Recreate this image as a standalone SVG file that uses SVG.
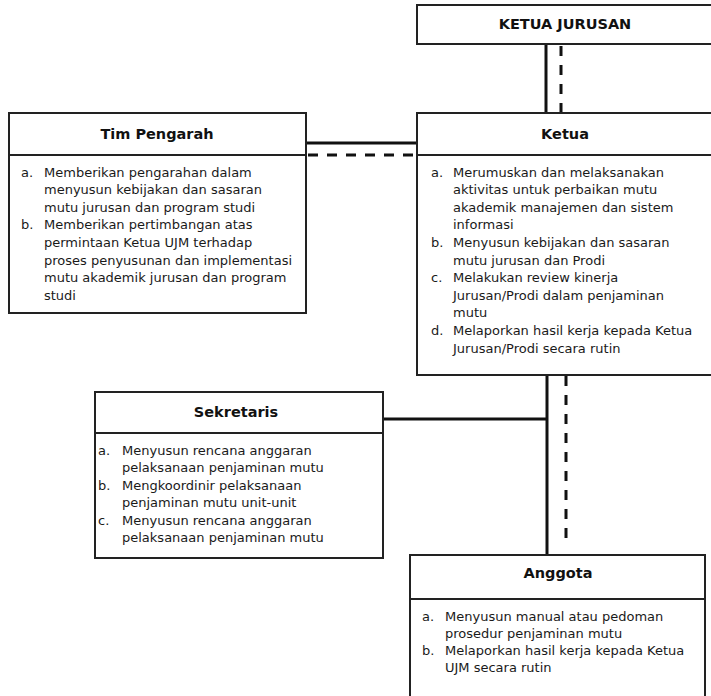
<svg xmlns="http://www.w3.org/2000/svg" width="711" height="696" viewBox="0 0 711 696">
<style>
.box{fill:#fff;stroke:#222;stroke-width:2}
.sep{stroke:#222;stroke-width:2}
.h{font-family:"DejaVu Sans",Verdana,sans-serif;font-weight:bold;font-size:14.5px;fill:#111;text-anchor:middle}
.t{font-family:"DejaVu Sans",Verdana,sans-serif;font-size:13px;fill:#1a1a1a}
.solid{stroke:#111;stroke-width:3;fill:none}
.dash{stroke:#111;stroke-width:3;fill:none;stroke-dasharray:10 9}
</style>
<rect width="711" height="696" fill="#fff"/>
<g id="connectors">
<line class="solid" x1="546" y1="44" x2="546" y2="113"/>
<line class="dash" x1="561" y1="46" x2="561" y2="113"/>
<line class="solid" x1="306" y1="143" x2="417" y2="143"/>
<line class="dash" x1="308" y1="155" x2="417" y2="155"/>
<line class="solid" x1="547" y1="375" x2="547" y2="555"/>
<line class="dash" x1="566" y1="376" x2="566" y2="546"/>
<line class="solid" x1="383" y1="419" x2="547" y2="419"/>
</g>
<g id="ketua-jurusan">
<rect class="box" x="417" y="5" width="300" height="39"/>
<text class="h" x="565" y="29">KETUA JURUSAN</text>
</g>
<g id="ketua">
<rect class="box" x="417" y="113" width="300" height="262"/>
<line class="sep" x1="417" y1="155" x2="717" y2="155"/>
<text class="h" x="565" y="139">Ketua</text>
<text class="t" x="431" y="176.5">a.</text>
<text class="t" x="453" y="176.5">Merumuskan dan melaksanakan</text>
<text class="t" x="453" y="194.1">aktivitas untuk perbaikan mutu</text>
<text class="t" x="453" y="211.7">akademik manajemen dan sistem</text>
<text class="t" x="453" y="229.3">informasi</text>
<text class="t" x="431" y="246.9">b.</text>
<text class="t" x="453" y="246.9">Menyusun kebijakan dan sasaran</text>
<text class="t" x="453" y="264.5">mutu jurusan dan Prodi</text>
<text class="t" x="431" y="282.1">c.</text>
<text class="t" x="453" y="282.1">Melakukan review kinerja</text>
<text class="t" x="453" y="299.7">Jurusan/Prodi dalam penjaminan</text>
<text class="t" x="453" y="317.3">mutu</text>
<text class="t" x="431" y="334.9">d.</text>
<text class="t" x="453" y="334.9">Melaporkan hasil kerja kepada Ketua</text>
<text class="t" x="453" y="352.5">Jurusan/Prodi secara rutin</text>
</g>
<g id="tim-pengarah">
<rect class="box" x="9" y="113" width="297" height="200"/>
<line class="sep" x1="9" y1="155" x2="306" y2="155"/>
<text class="h" x="157" y="139">Tim Pengarah</text>
<text class="t" x="21" y="176.5">a.</text>
<text class="t" x="44" y="176.5">Memberikan pengarahan dalam</text>
<text class="t" x="44" y="194.1">menyusun kebijakan dan sasaran</text>
<text class="t" x="44" y="211.7">mutu jurusan dan program studi</text>
<text class="t" x="21" y="229.3">b.</text>
<text class="t" x="44" y="229.3">Memberikan pertimbangan atas</text>
<text class="t" x="44" y="246.9">permintaan Ketua UJM terhadap</text>
<text class="t" x="44" y="264.5">proses penyusunan dan implementasi</text>
<text class="t" x="44" y="282.1">mutu akademik jurusan dan program</text>
<text class="t" x="44" y="299.7">studi</text>
</g>
<g id="sekretaris">
<rect class="box" x="95" y="392" width="288" height="166"/>
<line class="sep" x1="95" y1="433" x2="383" y2="433"/>
<text class="h" x="236" y="417">Sekretaris</text>
<text class="t" x="98" y="454.5">a.</text>
<text class="t" x="122" y="454.5">Menyusun rencana anggaran</text>
<text class="t" x="122" y="472">pelaksanaan penjaminan mutu</text>
<text class="t" x="98" y="489.5">b.</text>
<text class="t" x="122" y="489.5">Mengkoordinir pelaksanaan</text>
<text class="t" x="122" y="507">penjaminan mutu unit-unit</text>
<text class="t" x="98" y="524.5">c.</text>
<text class="t" x="122" y="524.5">Menyusun rencana anggaran</text>
<text class="t" x="122" y="542">pelaksanaan penjaminan mutu</text>
</g>
<g id="anggota">
<rect class="box" x="410" y="555" width="295" height="150"/>
<line class="sep" x1="410" y1="599" x2="705" y2="599"/>
<text class="h" x="558" y="578">Anggota</text>
<text class="t" x="422" y="621">a.</text>
<text class="t" x="445" y="621">Menyusun manual atau pedoman</text>
<text class="t" x="445" y="638">prosedur penjaminan mutu</text>
<text class="t" x="422" y="655">b.</text>
<text class="t" x="445" y="655">Melaporkan hasil kerja kepada Ketua</text>
<text class="t" x="445" y="672">UJM secara rutin</text>
</g>
</svg>
